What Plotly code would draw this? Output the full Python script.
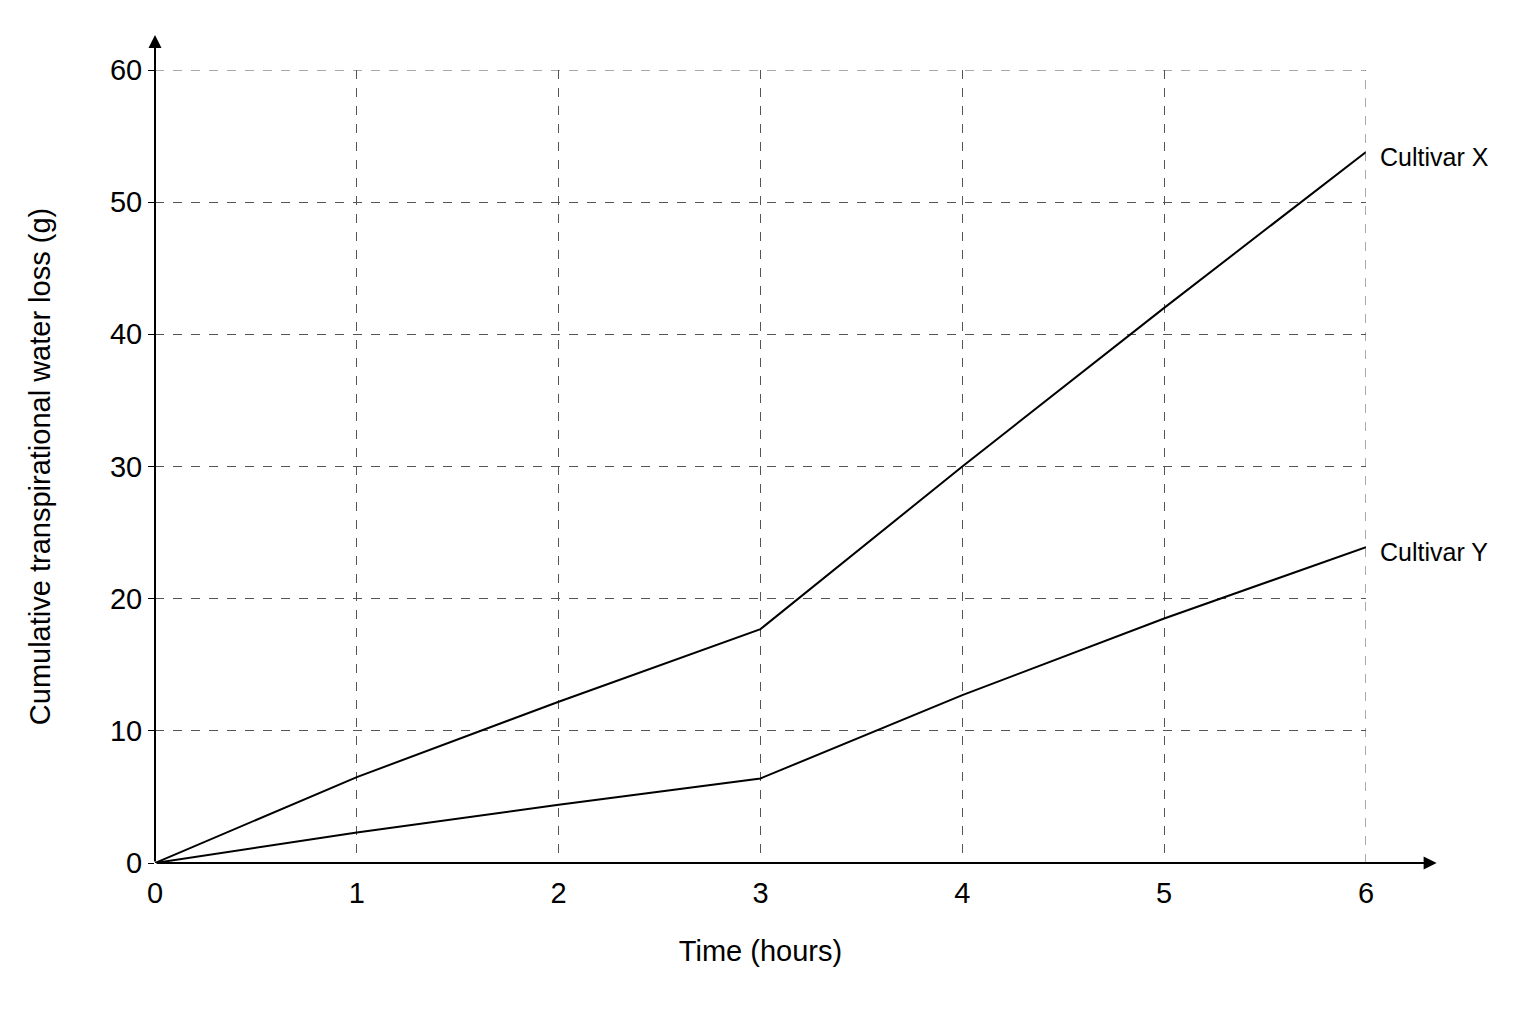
import plotly.graph_objects as go

hours = [0, 1, 2, 3, 4, 5, 6]
cultivar_x = [0, 6.5, 12.2, 17.7, 30.0, 42.0, 53.8]
cultivar_y = [0, 2.3, 4.4, 6.4, 12.7, 18.5, 23.9]

fig = go.Figure()
for name, vals in [("Cultivar X", cultivar_x), ("Cultivar Y", cultivar_y)]:
    fig.add_trace(go.Scatter(x=hours, y=vals, mode="lines", name=name,
                             line=dict(color="black", width=2), cliponaxis=False))
    fig.add_annotation(x=hours[-1], y=vals[-1], text=name, showarrow=False,
                       xanchor="left", xshift=12, yshift=-5,
                       font=dict(size=25, color="black"))

# axis arrows
fig.add_annotation(x=6.35, y=0, ax=0, ay=0, axref="x", ayref="y", xref="x", yref="y",
                   showarrow=True, arrowhead=2, arrowsize=1.3, arrowwidth=2, arrowcolor="black", text="")
fig.add_annotation(x=0, y=62.65, ax=0, ay=0, axref="x", ayref="y", xref="x", yref="y",
                   showarrow=True, arrowhead=2, arrowsize=1.3, arrowwidth=2, arrowcolor="black", text="")

fig.update_layout(
    width=1536, height=1024, showlegend=False,
    paper_bgcolor="white", plot_bgcolor="white",
    margin=dict(l=147, r=178, t=62, b=169),
    font=dict(family="Liberation Sans, Arial", color="black"),
)
fig.update_xaxes(range=[0, 6], tickvals=hours, tickfont=dict(size=29),
                 showgrid=True, gridcolor="#555", griddash="dash", gridwidth=1,
                 zeroline=False, showline=False, ticks="", ticklabelstandoff=10,
                 title=dict(text="Time (hours)", font=dict(size=29), standoff=32))
fig.update_yaxes(range=[0, 60], tickvals=[0, 10, 20, 30, 40, 50, 60], tickfont=dict(size=29),
                 showgrid=True, gridcolor="#555", griddash="dash", gridwidth=1,
                 zeroline=False, showline=False, ticks="outside", ticklen=6, tickcolor="black",
                 title=dict(text="Cumulative transpirational water loss (g)", font=dict(size=29), standoff=50))
# right and top border of grid (dashed)
fig.add_shape(type="line", x0=6, x1=6, y0=0, y1=60, line=dict(color="#555", width=1, dash="dash"))
fig.add_shape(type="line", x0=0, x1=6, y0=60, y1=60, line=dict(color="#555", width=1, dash="dash"))

fig.write_html("out.html")
